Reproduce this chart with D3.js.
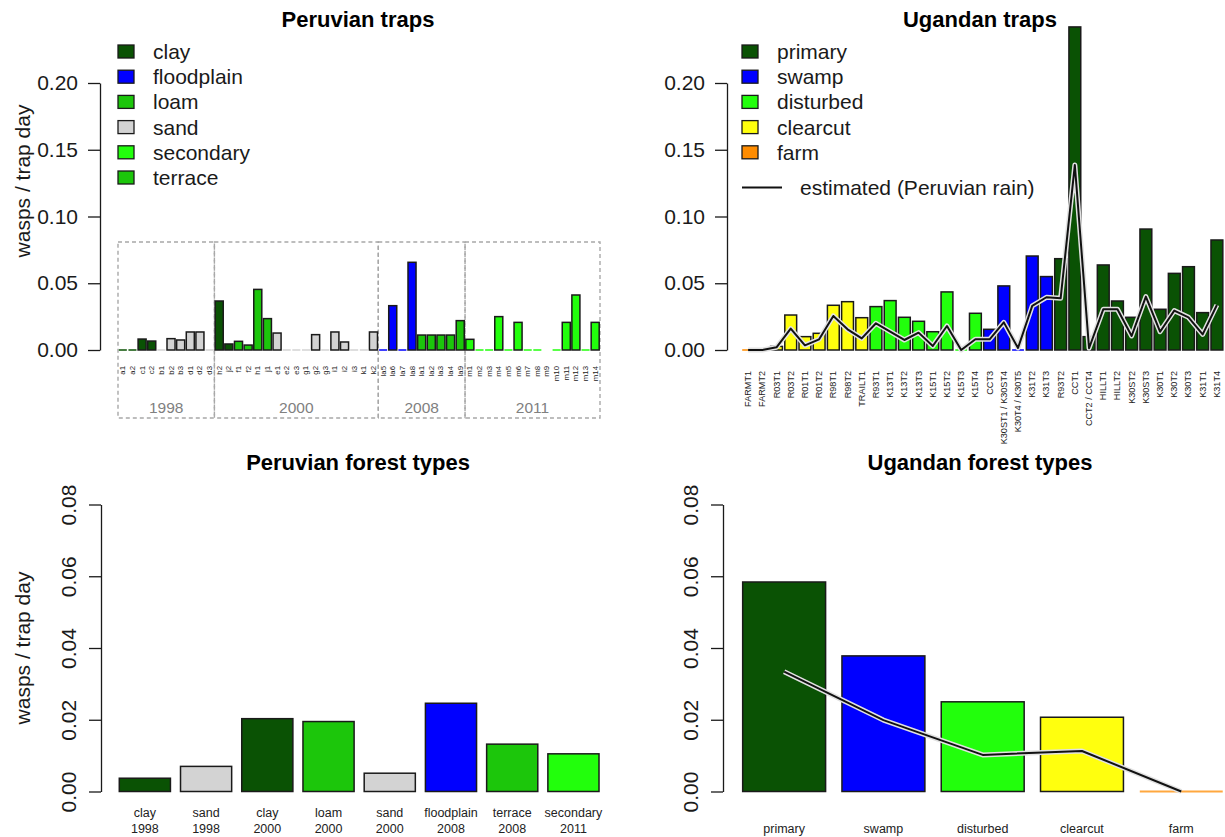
<!DOCTYPE html>
<html><head><meta charset="utf-8">
<script src="https://cdn.jsdelivr.net/npm/d3@7"></script>
<style>
body{margin:0;background:#fff}
svg{display:block;font-family:"Liberation Sans",Arial,Helvetica,sans-serif}
</style>
</head><body>
<svg id="chart" width="1225" height="837"></svg>
<script>
// ---- habitat colours ----
const habitatNames = ["clay","floodplain","loam","sand","secondary","terrace","primary","swamp","disturbed","clearcut","farm"];
const habitatFills = ["#0a5204","#0000ff","#1cc60b","#d3d3d3","#22ff0c","#1cc60b","#0a5204","#0000ff","#22ff0c","#ffff0e","#ff8c00"];

// ---- Peruvian traps ----
const peruTraps = ["a1","a2","c1","c2","b1","b2","b3","d1","d2","d3",
  "h2","j2","f1","f2","h1","j1","e1","e2","e3","g1","g2","g3","i1","i2","i3","k1","k2",
  "la5","la6","la7","la8","la1","la2","la3","la4","la9",
  "m1","m2","m3","m4","m5","m6","m7","m8","m9","m10","m11","m12","m13","m14"];
const peruTrapHabitat = ["clay","clay","clay","clay","sand","sand","sand","sand","sand","sand",
  "clay","clay","loam","loam","loam","loam","sand","sand","sand","sand","sand","sand","sand","sand","sand","sand","sand",
  "floodplain","floodplain","floodplain","floodplain","terrace","terrace","terrace","terrace","terrace",
  "secondary","secondary","secondary","secondary","secondary","secondary","secondary","secondary","secondary","secondary","secondary","secondary","secondary","secondary"];
const peruTrapRate = [0,0,0.0082,0.0067,0,0.0085,0.0075,0.0135,0.0135,0,
  0.0367,0.0045,0.0065,0.0037,0.0454,0.0235,0.0127,0,0,0,0.0115,0,0.0135,0.006,0,0,0.0135,
  0,0.0332,0,0.0657,0.0112,0.0112,0.0112,0.0112,0.022,
  0.008,0,0,0.025,0,0.0207,0,0,null,0,0.0207,0.0412,0,0.0207];
const peruYearLabels = ["1998","2000","2008","2011"];
const peruYearCounts = [10,17,9,14];
const peruLegend = ["clay","floodplain","loam","sand","secondary","terrace"];

// ---- Ugandan traps ----
const ugTraps = ["FARMT1","FARMT2","R03T1","R03T2","R01T1","R01T2","R98T1","R98T2","TRAILT1",
  "R93T1","K13T1","K13T2","K13T3","K15T1","K15T2","K15T3","K15T4",
  "CCT3","K30ST1 / K30ST4","K30T4 / K30T5","K31T2","K31T3",
  "R93T2","CCT1","CCT2 / CCT4","HILLT1","HILLT2","K30ST2","K30ST3","K30T1","K30T2","K30T3","K31T1","K31T4"];
const ugTrapHabitat = ["farm","farm","clearcut","clearcut","clearcut","clearcut","clearcut","clearcut","clearcut",
  "disturbed","disturbed","disturbed","disturbed","disturbed","disturbed","disturbed","disturbed",
  "swamp","swamp","swamp","swamp","swamp",
  "primary","primary","primary","primary","primary","primary","primary","primary","primary","primary","primary","primary"];
const ugTrapRate = [0,0,0.0027,0.0262,0.010,0.0125,0.0335,0.0362,0.0242,
  0.0325,0.037,0.0245,0.0215,0.0137,0.0435,0,0.0275,
  0.0155,0.048,0,0.0704,0.055,
  0.0684,0.242,0.010,0.0637,0.0367,0.0245,0.0906,0.0305,0.0574,0.0624,0.028,0.0824];
const ugTrapEstimate = [0,0,0.002,0.016,0.0035,0.008,0.0255,0.0155,0.0087,
  0.020,0.0137,0.0075,0.013,0.003,0.018,0,0.008,
  0.008,0.0207,0.0015,0.033,0.0395,
  0.0387,0.1386,0.0013,0.0305,0.0305,0.0105,0.040,0.0137,0.0295,0.0245,0.0117,0.0337];
const ugLegend = ["primary","swamp","disturbed","clearcut","farm"];

// ---- Peruvian forest types ----
const peruForest = ["clay","sand","clay","loam","sand","floodplain","terrace","secondary"];
const peruForestYear = ["1998","1998","2000","2000","2000","2008","2008","2011"];
const peruForestRate = [0.0037,0.0070,0.0203,0.0195,0.0051,0.0246,0.0132,0.0105];

// ---- Ugandan forest types ----
const ugForest = ["primary","swamp","disturbed","clearcut","farm"];
const ugForestRate = [0.0584,0.0378,0.025,0.0207,0];
const ugForestEstimate = [0.0334,0.0199,0.0102,0.0113,0];

const yTicksTraps = [0,0.05,0.10,0.15,0.20];
const yTicksForest = [0,0.02,0.04,0.06,0.08];

const color = d3.scaleOrdinal().domain(habitatNames).range(habitatFills);
const svg = d3.select("#chart");
const INK = "#1a1a1a";

function title(x, y, txt){
  svg.append("text").attr("x",x).attr("y",y).attr("text-anchor","middle")
    .attr("font-size",22).attr("font-weight","bold").attr("fill","#000").text(txt);
}
function ylab(x, y, txt){
  svg.append("text").attr("transform",`translate(${x},${y}) rotate(-90)`)
    .attr("text-anchor","middle").attr("font-size",21).attr("fill",INK).text(txt);
}
function yAxis(y, x0, ticks, rotated){
  const g = svg.append("g").attr("transform",`translate(${x0},0)`)
    .call(d3.axisLeft(y).tickValues(ticks).tickFormat(d3.format(".2f")).tickSize(12).tickSizeOuter(0).tickPadding(10));
  g.select(".domain").attr("stroke",INK).attr("stroke-width",1.3);
  g.selectAll(".tick line").attr("stroke",INK).attr("stroke-width",1.3);
  g.selectAll(".tick text").attr("font-size",21).attr("fill",INK).attr("font-family",null);
  if(rotated){
    g.selectAll(".tick text").attr("text-anchor","middle").attr("x",null).attr("dy",null)
      .attr("transform","translate(-33,0) rotate(-90)").attr("dominant-baseline","central");
  }
  g.attr("font-family",null);
  return g;
}
function bars(x, y, cats, vals, fills){
  const y0 = y(0);
  cats.forEach((c,i)=>{
    const v = vals[i];
    if(v === null) return;
    if(v === 0){
      svg.append("line").attr("x1",x(c)).attr("x2",x(c)+x.bandwidth())
        .attr("y1",y0).attr("y2",y0).attr("stroke",fills[i]).attr("stroke-width",2).attr("opacity",0.75);
    } else {
      svg.append("rect").attr("x",x(c)).attr("y",y(v)).attr("width",x.bandwidth()).attr("height",y0-y(v))
        .attr("fill",fills[i]).attr("stroke",INK).attr("stroke-width",1.5);
    }
  });
}
function haloLine(x, y, cats, vals){
  const line = d3.line().x((d,i)=>x(cats[i])+x.bandwidth()/2).y(d=>y(d));
  svg.append("path").attr("d",line(vals)).attr("fill","none").attr("stroke","#e2e2e2")
    .attr("stroke-width",5).attr("stroke-linejoin","round");
  svg.append("path").attr("d",line(vals)).attr("fill","none").attr("stroke","#111")
    .attr("stroke-width",2).attr("stroke-linejoin","round");
}
function legend(x, y, names){
  names.forEach((n,i)=>{
    const yy = y + i*25.2;
    svg.append("rect").attr("x",x).attr("y",yy-6.5).attr("width",16).attr("height",13)
      .attr("fill",color(n)).attr("stroke",INK).attr("stroke-width",1.3);
    svg.append("text").attr("x",x+35).attr("y",yy+7.5).attr("font-size",21).attr("fill",INK).text(n);
  });
}

// ================= Peruvian traps =================
{
  const x = d3.scaleBand().domain(peruTraps).range([118,600]).paddingInner(0.1667).paddingOuter(0.0833);
  const y = d3.scaleLinear().domain([0,0.2]).range([350,83]);
  title(358,27,"Peruvian traps");
  ylab(30,181,"wasps / trap day");
  yAxis(y,100,yTicksTraps,false);
  legend(118,51.5,peruLegend);

  // year boxes
  const step = x.step();
  let start = 0;
  peruYearCounts.forEach((n,k)=>{
    const x0 = 118 + start*step, x1 = 118 + (start+n)*step;
    svg.append("rect").attr("x",x0).attr("y",242).attr("width",x1-x0).attr("height",176)
      .attr("fill","none").attr("stroke","#a8a8a8").attr("stroke-width",1.4).attr("stroke-dasharray","4,3");
    svg.append("text").attr("x",(x0+x1)/2).attr("y",413).attr("text-anchor","middle")
      .attr("font-size",15.5).attr("fill","#808080").text(peruYearLabels[k]);
    start += n;
  });

  bars(x,y,peruTraps,peruTrapRate,peruTrapHabitat.map(h=>color(h)));

  peruTraps.forEach(c=>{
    svg.append("text").attr("transform",`translate(${x(c)+x.bandwidth()/2},366) rotate(-90)`)
      .attr("text-anchor","end").attr("dominant-baseline","central")
      .attr("font-size",7.8).attr("fill","#222").text(c);
  });
}

// ================= Ugandan traps =================
{
  const x = d3.scaleBand().domain(ugTraps).range([741,1224]).paddingInner(0.1667).paddingOuter(0.0833);
  const y = d3.scaleLinear().domain([0,0.2]).range([350,83]);
  title(980,27,"Ugandan traps");
  yAxis(y,727,yTicksTraps,false);
  legend(742,51.5,ugLegend);
  svg.append("line").attr("x1",742).attr("x2",782).attr("y1",187.5).attr("y2",187.5)
    .attr("stroke","#111").attr("stroke-width",2);
  svg.append("text").attr("x",800).attr("y",195).attr("font-size",21).attr("fill",INK)
    .text("estimated (Peruvian rain)");

  bars(x,y,ugTraps,ugTrapRate,ugTrapHabitat.map(h=>color(h)));
  haloLine(x,y,ugTraps,ugTrapEstimate);

  ugTraps.forEach(c=>{
    svg.append("text").attr("transform",`translate(${x(c)+x.bandwidth()/2},371) rotate(-90)`)
      .attr("text-anchor","end").attr("dominant-baseline","central")
      .attr("font-size",9.1).attr("fill","#222").text(c);
  });
}

// ================= Peruvian forest types =================
{
  const cats = peruForest.map((f,i)=>f+" "+peruForestYear[i]);
  const x = d3.scaleBand().domain(cats).range([114.25,604.05]).paddingInner(0.1647).paddingOuter(0.0823);
  const y = d3.scaleLinear().domain([0,0.08]).range([791.5,504.5]);
  title(358,470,"Peruvian forest types");
  ylab(30,648,"wasps / trap day");
  yAxis(y,101,yTicksForest,true);
  bars(x,y,cats,peruForestRate,peruForest.map(h=>color(h)));
  cats.forEach((c,i)=>{
    const t = svg.append("text").attr("text-anchor","middle").attr("font-size",12.5).attr("fill","#222");
    t.append("tspan").attr("x",x(c)+x.bandwidth()/2).attr("y",817).text(peruForest[i]);
    t.append("tspan").attr("x",x(c)+x.bandwidth()/2).attr("y",833).text(peruForestYear[i]);
  });
}

// ================= Ugandan forest types =================
{
  const x = d3.scaleBand().domain(ugForest).range([734.5,1230.9]).paddingInner(0.1647).paddingOuter(0.0823);
  const y = d3.scaleLinear().domain([0,0.08]).range([791.5,504.5]);
  title(980,470,"Ugandan forest types");
  yAxis(y,723,yTicksForest,true);
  bars(x,y,ugForest,ugForestRate,ugForest.map(h=>color(h)));
  haloLine(x,y,ugForest,ugForestEstimate);
  ugForest.forEach(c=>{
    svg.append("text").attr("x",x(c)+x.bandwidth()/2).attr("y",833).attr("text-anchor","middle")
      .attr("font-size",12.5).attr("fill","#222").text(c);
  });
}
</script>
</body></html>
